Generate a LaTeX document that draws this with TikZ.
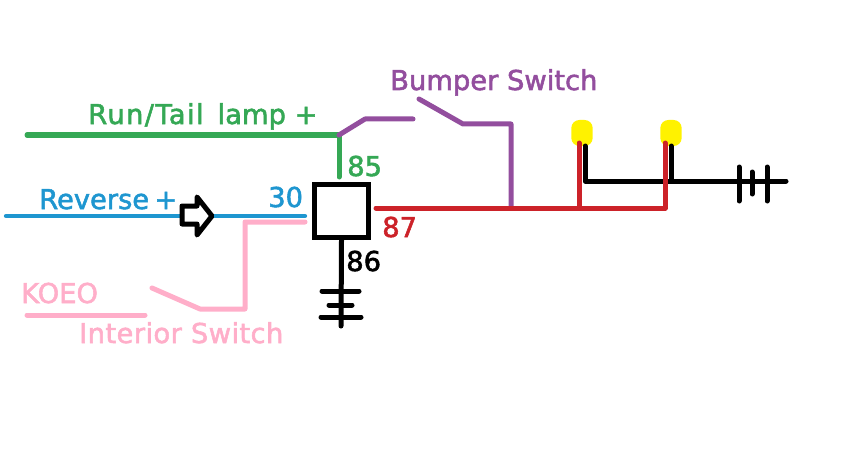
\documentclass[tikz,border=0pt]{standalone}
\usepackage{fontspec}
\setmainfont[FakeBold=2]{DejaVu Sans}
\definecolor{wiregreen}{HTML}{35A855}
\definecolor{wireblue}{HTML}{1E96D0}
\definecolor{wirepurple}{HTML}{934E9E}
\definecolor{wirered}{HTML}{CC2229}
\definecolor{wirepink}{HTML}{FFAEC9}
\definecolor{lampyellow}{HTML}{FFF200}
\begin{document}
\begin{tikzpicture} [
    x=0.75pt, y=-0.75pt,
    relay/.style    = { rectangle, draw=black, line width=4pt, fill=white,
                        minimum width=40.5pt, minimum height=40pt, inner sep=0pt },
    lamp/.style     = { rectangle, rounded corners=6pt, fill=lampyellow, inner sep=0pt,
                        minimum width=16pt, minimum height=19.5pt },
    tag/.style      = { inner sep=0pt, anchor=base west, font=\fontsize{20.5}{20.5}\selectfont },
    line/.style     = { draw, line width=3.75pt, line cap=round, line join=round },
  ]
  \useasboundingbox (0,0) rectangle (855,449);

  % Define nodes
  \node[relay] (relay) at (341.5,211) {};
  \node[lamp] (lamp1) at (582,133) {};
  \node[lamp] (lamp2) at (671,133) {};

  \coordinate (greenstart) at (27,135);
  \coordinate (greenjoin) at (339,135);
  \coordinate (greenend) at (339,177);
  \coordinate (bumperA) at (365,119);
  \coordinate (bumperB) at (413,119);
  \coordinate (bumperC) at (419,99);
  \coordinate (bumperD) at (463,124);
  \coordinate (bumperE) at (511,124);
  \coordinate (bumperF) at (511,207);
  \coordinate (redstart) at (376,208);
  \coordinate (redA) at (579,208);
  \coordinate (redB) at (665,208);
  \coordinate (redtopA) at (579,143);
  \coordinate (redtopB) at (665,143);
  \coordinate (blackA) at (585,146);
  \coordinate (blackB) at (585,181);
  \coordinate (blackC) at (671,146);
  \coordinate (blackD) at (671,181);
  \coordinate (blackE) at (786,181);
  \coordinate (bluestart) at (6,216);
  \coordinate (blueend) at (305,216);
  \coordinate (pinkA) at (305,222);
  \coordinate (pinkB) at (245,222);
  \coordinate (pinkC) at (245,309);
  \coordinate (pinkD) at (200,309);
  \coordinate (pinkE) at (152,288);
  \coordinate (koeoA) at (27,315);
  \coordinate (koeoB) at (145,315);
  \coordinate (relayfoot) at (341,326);

  % Labels
  \node[tag, text=wiregreen] (runtail) at (88,124) {\addfontfeature{LetterSpace=5}Run/Tail\hspace{3pt} \addfontfeature{LetterSpace=0}lamp +};
  \node[tag, text=wireblue] (reverse) at (39,209) {Reverse\hspace{-2.5pt} +};
  \node[tag, text=wireblue] (n30) at (268,207) {30};
  \node[tag, text=wiregreen] (n85) at (347,176) {85};
  \node[tag, text=wirered] (n87) at (382,237) {87};
  \node[tag] (n86) at (346,271) {86};
  \node[tag, text=wirepurple] (bumper) at (390,90) {Bumper Switch};
  \node[tag, text=wirepink] (koeo) at (21,303) {KOEO};
  \node[tag, text=wirepink] (interior) at (79,343) {\addfontfeature{LetterSpace=1.5}Interior Switch};

  % connect the nodes
  \path [line, wirepink] (pinkA) -- (pinkB) -- (pinkC) -- (pinkD) -- (pinkE);
  \path [line, wirepink] (koeoA) -- (koeoB);
  \path [line, wireblue, line width=3.2pt] (bluestart) -- (blueend);
  \path [line, wiregreen] (greenstart) -- (greenjoin) -- (greenend);
  \path [line, wirepurple] (greenjoin) -- (bumperA) -- (bumperB);
  \path [line, wirepurple] (bumperC) -- (bumperD) -- (bumperE) -- (bumperF);
  \path [line, black] (blackA) -- (blackB) -- (blackE);
  \path [line, black] (blackC) -- (blackD);
  \path [line, wirered] (redstart) -- (redB) -- (redtopB);
  \path [line, wirered] (redA) -- (redtopA);

  % relay ground
  \path [line, black] (relay.south) -- (relayfoot);
  \path [line, black] (322,291) -- (359,291);
  \path [line, black] (329,305) -- (352,305);
  \path [line, black] (321,317) -- (361,317);

  % lamp ground
  \path [line, black] (739,167) -- (739,201);
  \path [line, black] (752,172) -- (752,194);
  \path [line, black] (767,167) -- (767,201);

  % direction arrow
  \path [line, black, fill=white] (182,206) -- (197,206) -- (197,197) -- (212,216)
        -- (197,235) -- (197,224) -- (182,224) -- cycle;
\end{tikzpicture}
\end{document}
